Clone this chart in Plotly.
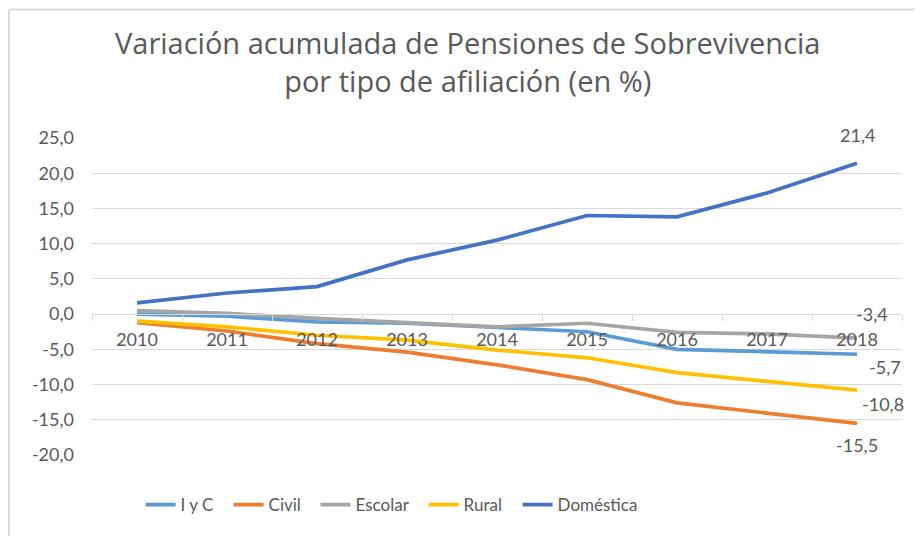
import plotly.graph_objects as go

YEARS = ["2010", "2011", "2012", "2013", "2014", "2015", "2016", "2017", "2018"]

I_Y_C = [0.0, -0.3, -1.1, -1.3, -1.9, -2.5, -5.0, -5.3, -5.7]
CIVIL = [-1.2, -2.4, -4.2, -5.4, -7.2, -9.3, -12.6, -14.1, -15.5]
ESCOLAR = [0.5, 0.1, -0.6, -1.2, -1.8, -1.3, -2.6, -2.8, -3.4]
RURAL = [-1.0, -1.8, -3.0, -3.7, -5.1, -6.2, -8.3, -9.6, -10.8]
DOMESTICA = [1.6, 3.0, 3.9, 7.7, 10.5, 14.0, 13.8, 17.2, 21.4]

Y_TICKS = [-20, -15, -10, -5, 0, 5, 10, 15, 20, 25]

SERIES = [
    ("I y C", I_Y_C, "#5B9BD5"),
    ("Civil", CIVIL, "#ED7D31"),
    ("Escolar", ESCOLAR, "#A5A5A5"),
    ("Rural", RURAL, "#FFC000"),
    ("Doméstica", DOMESTICA, "#4472C4"),
]

# pixel offsets for the end-of-line value labels
LABEL_SHIFT = {
    "I y C": (28, -13),
    "Civil": (0, -22),
    "Escolar": (15, 24),
    "Rural": (26, -14),
    "Doméstica": (0, 28),
}

# one small legend per series so the entries sit where Excel put them
LEGEND_X = [0.060, 0.1686, 0.276, 0.4094, 0.5254]

FONT = "Lato"
GREY = "#595959"
GRID = "#d9d9d9"


def excel_num(v):
    # Excel style: decimal comma and a plain hyphen for negatives
    return f"{v:.1f}".replace(".", ",")


fig = go.Figure()
legends = {}
for i, (name, values, color) in enumerate(SERIES):
    legend_id = "legend" if i == 0 else f"legend{i + 1}"
    legends[legend_id] = dict(
        orientation="h",
        x=LEGEND_X[i],
        xanchor="left",
        y=-0.158,
        yanchor="middle",
        font=dict(family=FONT, size=17, color=GREY),
        bgcolor="rgba(0,0,0,0)",
    )
    fig.add_trace(
        go.Scatter(
            x=YEARS,
            y=values,
            name=name,
            mode="lines",
            line=dict(color=color, width=3.7),
            legend=legend_id,
        )
    )
    dx, dy = LABEL_SHIFT[name]
    fig.add_annotation(
        x=len(values) - 1,
        y=values[-1],
        text=excel_num(values[-1]),
        showarrow=False,
        xshift=dx,
        yshift=dy,
        font=dict(family=FONT, size=18, color=GREY),
    )

# outer chart frame (top and left edges visible)
fig.add_shape(type="line", xref="paper", yref="paper",
              x0=-0.1025, x1=1.03, y0=1.405, y1=1.405,
              line=dict(color=GRID, width=2))
fig.add_shape(type="line", xref="paper", yref="paper",
              x0=-0.1025, x1=-0.1025, y0=-0.26, y1=1.405,
              line=dict(color=GRID, width=2))

fig.update_layout(
    width=914,
    height=528,
    margin=dict(l=84, r=20, t=130, b=81),
    paper_bgcolor="white",
    plot_bgcolor="white",
    font=dict(family=FONT, size=18, color=GREY),
    title=dict(
        text="Variación acumulada de Pensiones de Sobrevivencia<br>por tipo de afiliación (en %)",
        x=0.503,
        xanchor="center",
        y=0.913,
        yanchor="middle",
        font=dict(family="Open Sans", size=29, color=GREY),
    ),
    showlegend=True,
    **legends,
)

fig.update_yaxes(
    range=[-20, 25],
    tickvals=Y_TICKS,
    ticktext=[excel_num(v) for v in Y_TICKS],
    showgrid=True,
    gridcolor=GRID,
    gridwidth=1,
    zeroline=False,
    showline=False,
    ticklabelstandoff=17,
)

fig.update_xaxes(
    type="category",
    range=[-0.5, 8.5],
    anchor="free",
    position=20 / 45,
    showgrid=False,
    showline=True,
    linecolor=GRID,
    linewidth=1,
    ticks="outside",
    tickson="boundaries",
    ticklen=6,
    tickcolor=GRID,
    ticklabelstandoff=9,
)

fig.write_html("out.html")
